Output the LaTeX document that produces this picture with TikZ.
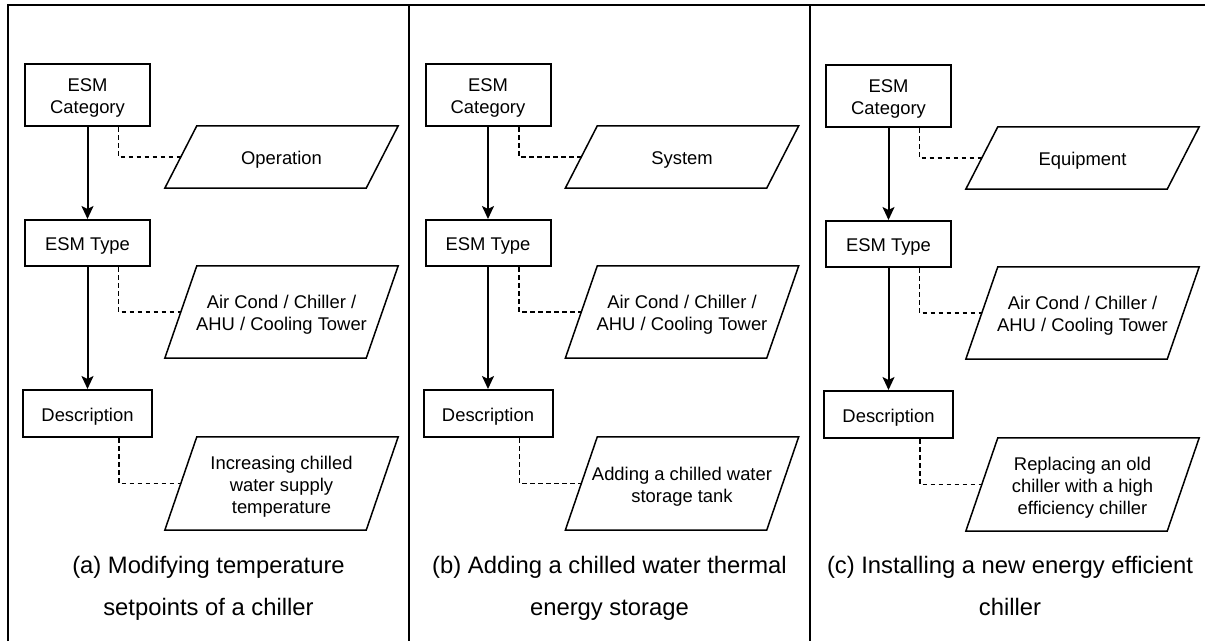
\documentclass[tikz,border=0pt]{standalone}
\usepackage{fontspec}
\setmainfont{Liberation Sans}
\usetikzlibrary{arrows.meta}
\newcommand\fsbox{\fontsize{18.4}{22}\selectfont}
\newcommand\fscap{\fontsize{23.8}{28}\selectfont}
\tikzset{
  lbl/.style={inner sep=0pt, align=center, font=\fsbox, yshift=-2.8pt},
  box/.style={draw, line width=2pt, minimum width=125pt, inner sep=0pt},
  para/.style={inner sep=0pt, minimum width=201pt},
  pline/.style={line width=1.5pt, line join=miter},
  dsh/.style={line width=1.3pt, dash pattern=on 4.5pt off 3.5pt},
  arr/.style={line width=2pt, -{Stealth[length=13pt,width=12pt,inset=3pt]}},
  frame/.style={line width=2pt},
  captext/.style={anchor=base, font=\fscap, inner sep=0pt}
}
\newcommand\drawpara[1]{%
  \draw[pline] ([xshift=16pt]#1.north west) -- ([xshift=16pt]#1.north east)
    -- ([xshift=-16pt]#1.south east) -- ([xshift=-16pt]#1.south west) -- cycle;}
% #1 dx, #2 dy, #3 id, #4 para1, #5 para3, #6 caption1, #7 caption2, #8 caption x
\newcommand\mypanel[8]{%
  \begin{scope}[shift={(#1,#2)}]
  \node[box, minimum height=62pt, label={[lbl]center:{ESM\\Category}}] (cat#3) at (87.5,95) {};
  \node[box, minimum height=46pt, label={[lbl]center:{ESM Type}}] (type#3) at (87.5,243) {};
  \node[box, minimum width=129pt, minimum height=47pt, label={[lbl]center:{Description}}] (desc#3) at (87.5,413.5) {};
  \node[para, minimum height=62pt, label={[lbl]center:{#4}}] (pa#3) at (281.5,157) {};
  \node[para, minimum height=92pt, label={[lbl]center:{Air Cond / Chiller /\\AHU / Cooling Tower}}] (pb#3) at (281.5,312) {};
  \node[para, minimum height=93pt, label={[lbl]center:{#5}}] (pc#3) at (281.5,483.5) {};
  \end{scope}
  \drawpara{pa#3}\drawpara{pb#3}\drawpara{pc#3}
  \draw[arr] (cat#3) -- (type#3);
  \draw[arr] (type#3) -- (desc#3);
  \draw[dsh] ([xshift=31pt]cat#3.south) |- (pa#3.west);
  \draw[dsh] ([xshift=31pt]type#3.south) |- (pb#3.west);
  \draw[dsh] ([xshift=31.5pt]desc#3.south) |- (pc#3.west);
  \node[captext] (capa#3) at (#8,573.5) {#6};
  \node[captext] (capb#3) at (#8,615) {#7};
}
\begin{document}
\begin{tikzpicture}[x=1pt,y=-1pt]
\useasboundingbox (0,0) rectangle (1205,641);
% frame
\coordinate (tl) at (8,5);
\coordinate (tr) at (1205,5);
\coordinate (bl) at (8,641);
\coordinate (d1t) at (409,5);
\coordinate (d1b) at (409,641);
\coordinate (d2t) at (810,5);
\coordinate (d2b) at (810,641);
\draw[frame] (bl) -- (tl) -- (tr);
\draw[frame] (d1t) -- (d1b);
\draw[frame] (d2t) -- (d2b);
\mypanel{0}{0}{A}{Operation}{Increasing chilled\\water supply\\temperature}{(a) Modifying temperature}{setpoints of a chiller}{208.5}
\mypanel{400.5}{0}{B}{System}{Adding a chilled water\\storage tank}{(b) Adding a chilled water thermal}{energy storage}{609.5}
\mypanel{801}{1}{C}{Equipment}{Replacing an old\\chiller with a high\\efficiency chiller}{(c) Installing a new energy efficient}{chiller}{1010}
\end{tikzpicture}
\end{document}
